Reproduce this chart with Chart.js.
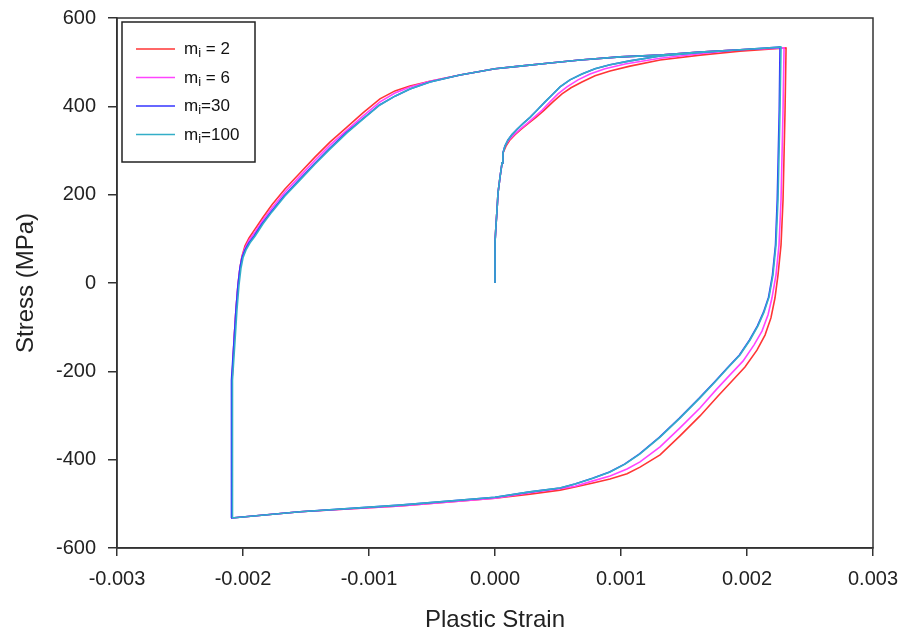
<!DOCTYPE html>
<html>
<head>
<meta charset="utf-8">
<script src="https://cdn.jsdelivr.net/npm/chart.js@4.4.0/dist/chart.umd.min.js"></script>
<style>
  body { margin: 0; background: #fff; }
  #wrap { width: 902px; height: 636px; }
</style>
</head>
<body>
<div id="wrap"><canvas id="loop" width="902" height="636"></canvas></div>
<script>
// hysteresis loops, plastic strain vs stress (MPa)
// each series: initial loading, unloading to compression, reloading, top branch
const seriesSuffix = [' = 2', ' = 6', '=30', '=100'];
const seriesColors = ['#ff3535', '#ff44ff', '#3535ff', '#33aec8'];

const strainM2 = [
  0, 0, 0.000008, 0.000016, 0.000024, 0.00004, 0.000056, 0.000063, 0.000087, 0.000119, 0.000159, 0.000206, 0.000262, 0.000325, 0.000389, 0.00046, 0.000532, 0.000603, 0.00069, 0.000794, 0.000913, 0.001071, 0.00131, 0.001627, 0.001944, 0.00231,
  0.002302, 0.002286, 0.00227, 0.002246, 0.002222, 0.00219, 0.002143, 0.002079, 0.001984, 0.001881, 0.00177, 0.001627, 0.001468, 0.00131, 0.001151, 0.001048, 0.000913, 0.000778, 0.000635, 0.000516, 0.000278, 0, -0.000754, -0.001548, -0.002087,
  -0.002087, -0.002087, -0.002071, -0.002056, -0.00204, -0.002024, -0.002008, -0.001984, -0.001952, -0.001905, -0.001841, -0.00177, -0.001667, -0.001548, -0.001429, -0.00131, -0.001175, -0.001048, -0.000913, -0.000794, -0.000675, -0.000516, -0.000278, 0,
  0.000198, 0.000437, 0.000675, 0.000992, 0.00131, 0.001627, 0.001944, 0.00231];
const stressM2 = [
  0, 91, 131, 165, 204, 240, 272, 294, 310, 324, 336, 348, 361, 375, 391, 410, 428, 442, 455, 469, 480, 491, 505, 516, 525, 532,
  392, 188, 86, 18, -34, -79, -118, -152, -190, -222, -256, -301, -346, -389, -417, -432, -444, -453, -462, -469, -478, -487, -505, -518, -532,
  -355, -220, -129, -61, -5, 34, 61, 84, 102, 122, 149, 177, 213, 249, 285, 319, 353, 385, 417, 435, 446, 457, 471, 485,
  491, 498, 505, 512, 516, 523, 528, 532];

const strainM6 = [
  0, 0, 0.000008, 0.000016, 0.000024, 0.00004, 0.000056, 0.000063, 0.000079, 0.000111, 0.000151, 0.000198, 0.000254, 0.00031, 0.000373, 0.000437, 0.0005, 0.000571, 0.000659, 0.000754, 0.000873, 0.001032, 0.00131, 0.001627, 0.001944, 0.002294,
  0.002286, 0.00227, 0.002254, 0.00223, 0.002198, 0.002167, 0.002119, 0.002056, 0.001968, 0.001865, 0.001754, 0.001627, 0.001468, 0.00131, 0.001151, 0.001048, 0.000913, 0.000778, 0.000635, 0.000516, 0.000278, 0, -0.000754, -0.001548, -0.002087,
  -0.002087, -0.002087, -0.002071, -0.002056, -0.00204, -0.002024, -0.002008, -0.001984, -0.001952, -0.001905, -0.001841, -0.00177, -0.001667, -0.001548, -0.001429, -0.00131, -0.001175, -0.001048, -0.000913, -0.000794, -0.000675, -0.000516, -0.000278, 0,
  0.000198, 0.000437, 0.000675, 0.000992, 0.00131, 0.001627, 0.001944, 0.002294];
const stressM6 = [
  0, 91, 131, 165, 204, 240, 272, 294, 310, 324, 336, 348, 361, 375, 391, 410, 428, 444, 460, 473, 485, 496, 509, 519, 528, 532,
  392, 188, 86, 18, -34, -72, -109, -140, -177, -208, -242, -283, -328, -371, -405, -421, -437, -448, -460, -466, -475, -487, -505, -518, -532,
  -355, -220, -129, -61, -5, 34, 59, 79, 97, 115, 143, 170, 206, 242, 278, 312, 346, 378, 410, 430, 444, 457, 471, 485,
  491, 498, 505, 512, 516, 523, 528, 532];

const strainM30 = [
  0, 0, 0.000008, 0.000016, 0.000024, 0.00004, 0.000056, 0.000063, 0.000079, 0.000103, 0.000135, 0.000175, 0.000222, 0.000278, 0.000333, 0.000397, 0.00046, 0.000516, 0.000595, 0.00069, 0.000794, 0.000913, 0.001071, 0.00131, 0.001627, 0.001944, 0.002262,
  0.002256, 0.00224, 0.002226, 0.002202, 0.002171, 0.002131, 0.002083, 0.00202, 0.00194, 0.001845, 0.001742, 0.001623, 0.001464, 0.001306, 0.001147, 0.001028, 0.000909, 0.000774, 0.000635, 0.000516, 0.000278, 0, -0.000754, -0.001548, -0.002095,
  -0.002095, -0.002088, -0.002071, -0.002056, -0.00204, -0.002024, -0.002008, -0.001984, -0.001952, -0.001913, -0.001849, -0.001778, -0.001675, -0.001556, -0.001437, -0.001318, -0.001183, -0.001052, -0.000917, -0.000794, -0.000675, -0.000516, -0.000278, 0,
  0.000198, 0.000437, 0.000675, 0.000992, 0.00131, 0.001627, 0.001944, 0.002262];
const stressM30 = [
  0, 91, 131, 165, 204, 240, 272, 294, 310, 324, 336, 348, 361, 375, 391, 410, 428, 444, 460, 473, 485, 494, 503, 514, 522, 528, 534,
  392, 188, 86, 18, -32, -66, -97, -129, -163, -192, -224, -260, -306, -349, -387, -410, -428, -442, -455, -464, -473, -485, -503, -518, -532,
  -355, -220, -129, -61, -5, 34, 57, 75, 91, 106, 134, 161, 197, 233, 269, 303, 340, 371, 403, 423, 439, 455, 471, 485,
  491, 498, 505, 512, 516, 523, 528, 534];

const strainM100 = [
  0, 0, 0.000008, 0.000016, 0.000024, 0.00004, 0.000056, 0.000063, 0.000079, 0.000103, 0.000135, 0.000175, 0.000222, 0.000278, 0.000333, 0.000397, 0.00046, 0.000516, 0.000595, 0.00069, 0.000794, 0.000913, 0.001071, 0.00131, 0.001627, 0.001944, 0.00227,
  0.002262, 0.002246, 0.00223, 0.002206, 0.002175, 0.002135, 0.002087, 0.002024, 0.001944, 0.001849, 0.001746, 0.001627, 0.001468, 0.00131, 0.001151, 0.001032, 0.000913, 0.000778, 0.000635, 0.000516, 0.000278, 0, -0.000754, -0.001548, -0.002087,
  -0.002087, -0.00208, -0.002063, -0.002048, -0.002032, -0.002016, -0.002, -0.001976, -0.001944, -0.001905, -0.001841, -0.00177, -0.001667, -0.001548, -0.001429, -0.00131, -0.001175, -0.001048, -0.000913, -0.000794, -0.000675, -0.000516, -0.000278, 0,
  0.000198, 0.000437, 0.000675, 0.000992, 0.00131, 0.001627, 0.001944, 0.00227];
const stressM100 = [
  0, 91, 131, 165, 204, 240, 272, 294, 310, 324, 336, 348, 361, 375, 391, 410, 428, 444, 460, 473, 485, 494, 503, 514, 522, 528, 534,
  392, 188, 86, 18, -32, -66, -97, -129, -163, -192, -224, -260, -306, -349, -387, -410, -428, -442, -455, -464, -473, -485, -503, -518, -532,
  -355, -220, -129, -61, -5, 34, 57, 75, 91, 106, 134, 161, 197, 233, 269, 303, 340, 371, 403, 423, 439, 455, 471, 485,
  491, 498, 505, 512, 516, 523, 528, 534];

const strainSets = [strainM2, strainM6, strainM30, strainM100];
const stressSets = [stressM2, stressM6, stressM30, stressM100];

const FONT = 'Liberation Sans, Arial, sans-serif';

function toPoints(xs, ys) {
  return xs.map((x, i) => ({ x: x, y: ys[i] }));
}

// frame + boxed legend with subscript i
const framePlugin = {
  id: 'frameAndLegend',
  afterDraw(chart) {
    const ctx = chart.ctx;
    const a = chart.chartArea;
    ctx.save();
    ctx.strokeStyle = '#333';
    ctx.lineWidth = 1.5;
    ctx.strokeRect(a.left, a.top, a.right - a.left, a.bottom - a.top);

    const x0 = a.left + 5, y0 = a.top + 4, w = 133, h = 140;
    ctx.fillStyle = '#fff';
    ctx.fillRect(x0, y0, w, h);
    ctx.strokeStyle = '#222';
    ctx.lineWidth = 1.5;
    ctx.strokeRect(x0, y0, w, h);

    seriesSuffix.forEach((suf, i) => {
      const y = y0 + 27 + i * 28.5;
      ctx.strokeStyle = seriesColors[i];
      ctx.lineWidth = 1.6;
      ctx.beginPath();
      ctx.moveTo(x0 + 14, y);
      ctx.lineTo(x0 + 53, y);
      ctx.stroke();

      ctx.fillStyle = '#111';
      ctx.textBaseline = 'alphabetic';
      ctx.textAlign = 'left';
      let tx = x0 + 62;
      ctx.font = '17px ' + FONT;
      ctx.fillText('m', tx, y + 5);
      tx += ctx.measureText('m').width;
      ctx.font = '13px ' + FONT;
      ctx.fillText('i', tx, y + 8);
      tx += ctx.measureText('i').width;
      ctx.font = '17px ' + FONT;
      ctx.fillText(suf, tx, y + 5);
    });
    ctx.restore();
  }
};

new Chart(document.getElementById('loop'), {
  type: 'scatter',
  data: {
    datasets: strainSets.map((xs, i) => ({
      label: 'm' + seriesSuffix[i],
      data: toPoints(xs, stressSets[i]),
      showLine: true,
      borderColor: seriesColors[i],
      borderWidth: 1.6,
      pointRadius: 0,
      tension: 0,
      fill: false,
      order: 3 - i
    }))
  },
  options: {
    responsive: false,
    animation: false,
    devicePixelRatio: 1,
    layout: { padding: { left: 0, right: 29, top: 18, bottom: 0 } },
    plugins: {
      legend: { display: false },
      tooltip: { enabled: false }
    },
    scales: {
      x: {
        type: 'linear',
        min: -0.003,
        max: 0.003,
        afterFit(scale) {
          scale.height = 88;
          scale.paddingLeft = 0;
          scale.paddingRight = 0;
        },
        ticks: {
          stepSize: 0.001,
          color: '#222',
          padding: 11,
          font: { family: FONT, size: 20 },
          callback: v => (Math.abs(v) < 1e-9 ? 0 : v).toFixed(3)
        },
        grid: { drawOnChartArea: false, tickLength: 8, color: '#333', lineWidth: 1.5 },
        border: { color: '#333', width: 1.5 },
        title: {
          display: true,
          text: 'Plastic Strain',
          color: '#222',
          font: { family: FONT, size: 24 },
          padding: { top: 0, bottom: 1 }
        }
      },
      y: {
        type: 'linear',
        min: -600,
        max: 600,
        afterFit(scale) {
          scale.width = 117;
          scale.paddingTop = 0;
          scale.paddingBottom = 0;
        },
        ticks: {
          stepSize: 200,
          color: '#222',
          padding: 12,
          font: { family: FONT, size: 20 }
        },
        grid: { drawOnChartArea: false, tickLength: 9, color: '#333', lineWidth: 1.5 },
        border: { color: '#333', width: 1.5 },
        title: {
          display: true,
          text: 'Stress (MPa)',
          color: '#222',
          font: { family: FONT, size: 24 },
          padding: { top: 12, bottom: 0 }
        }
      }
    }
  },
  plugins: [framePlugin]
});
</script>
</body>
</html>
